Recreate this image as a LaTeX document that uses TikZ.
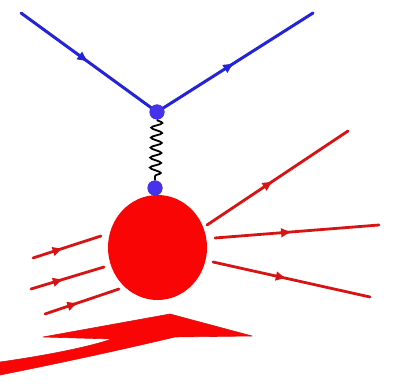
\documentclass[tikz,border=0pt]{standalone}
\usetikzlibrary{shapes.geometric,decorations.pathmorphing,decorations.markings,arrows.meta}
\definecolor{lblue}{RGB}{35,35,215}
\definecolor{dotblue}{RGB}{70,50,235}
\definecolor{lred}{RGB}{215,20,20}
\definecolor{bred}{RGB}{250,5,5}
\tikzset{
  fermion/.style={line width=3pt, line cap=round, postaction={decorate},
    decoration={markings, mark=at position #1 with {\arrow{Latex[length=12pt,width=10pt]}}}},
  fermion/.default=0.5,
  electron/.style={fermion, draw=lblue, color=lblue},
  quark/.style={line width=2.8pt, line cap=round, draw=lred, color=lred, postaction={decorate},
    decoration={markings, mark=at position #1 with {\arrow{Latex[length=11pt,width=10pt]}}}},
  quark/.default=0.47,
  vtx/.style={circle, fill=dotblue, inner sep=0pt, minimum size=15pt},
  photon/.style={line width=1.8pt, draw=black, decorate,
    decoration={snake, amplitude=5.5pt, segment length=10pt}},
}
\begin{document}
\begin{tikzpicture}[x=1pt,y=-1pt]
\useasboundingbox (0,0) rectangle (394,387);
% electron line
\coordinate (ein) at (21,13);
\coordinate (eout) at (313,13);
\node[vtx] (v1) at (157,112) {};
\draw[electron] (ein) -- (v1.center);
\draw[electron] (v1.center) -- (eout);
% proton blob
\node[ellipse, fill=bred, inner sep=0pt, minimum width=99pt, minimum height=105pt] (blob) at (157.5,247.5) {};
\node[vtx] (v2) at (155,188) {};
\draw[photon] (v1.south) -- (v2.north);
\node[vtx] at (v2) {};
\node[vtx] at (v1) {};
% outgoing
\coordinate (o1a) at (207,225); \coordinate (o1b) at (348,131);
\coordinate (o2a) at (215,238); \coordinate (o2b) at (379,225);
\coordinate (o3a) at (213,262); \coordinate (o3b) at (370,297);
\draw[quark] (o1a) -- (o1b);
\draw[quark] (o2a) -- (o2b);
\draw[quark] (o3a) -- (o3b);
% incoming
\coordinate (i1a) at (33,258); \coordinate (i1b) at (101,236);
\coordinate (i2a) at (31,289); \coordinate (i2b) at (104,267);
\coordinate (i3a) at (45,314); \coordinate (i3b) at (119,289);
\draw[quark=0.45] (i1a) -- (i1b);
\draw[quark=0.45] (i2a) -- (i2b);
\draw[quark=0.45] (i3a) -- (i3b);
% big swoosh arrow
\fill[bred, draw=lred, line width=0.6pt, line join=round]
  (43,337) -- (170,314) -- (252,336) -- (175,337)
  .. controls (145,344) and (90,357) .. (0,375)
  -- (0,362)
  .. controls (50,355) and (92,346) .. (112,339)
  -- cycle;
\end{tikzpicture}
\end{document}
